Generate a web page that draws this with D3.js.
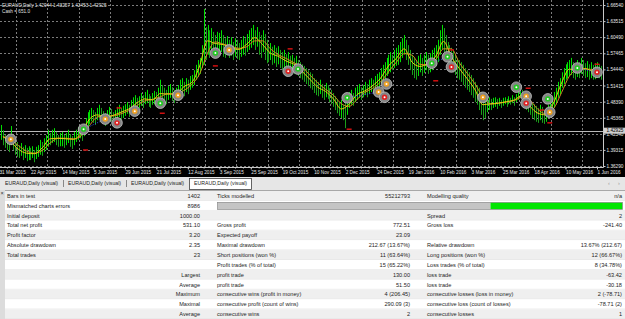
<!DOCTYPE html>
<html>
<head>
<meta charset="utf-8">
<script src="https://cdn.jsdelivr.net/npm/d3@7"></script>
<style>
  body { margin: 0; background: #fff; overflow: hidden; }
  svg { display: block; }
</style>
</head>
<body>
<svg id="chart" width="625" height="319"></svg>
<script>
// ---- data ----
const symbolTitle = "EURAUD,Daily  1.42944 1.43257 1.42453 1.42925"
const cashText = "Cash = 651.0"
const bidPrice = 1.42925

const dateLabels = ["31 Mar 2015","22 Apr 2015","14 May 2015","5 Jun 2015","29 Jun 2015","21 Jul 2015",
  "12 Aug 2015","3 Sep 2015","25 Sep 2015","19 Oct 2015","10 Nov 2015","2 Dec 2015","24 Dec 2015",
  "19 Jan 2016","10 Feb 2016","3 Mar 2016","25 Mar 2016","18 Apr 2016","10 May 2016","1 Jun 2016"]

const priceTicks = [1.36290,1.39315,1.42340,1.45365,1.48390,1.51415,1.54440,1.57465,1.60490,1.63515,1.66540]

// daily bars, one per trading day
const high = [
  1.434,1.440,1.430,1.421,1.415,1.412,1.438,1.421,1.412,1.408,1.402,1.406,1.399,1.402,1.397,1.400,
  1.397,1.400,1.393,1.399,1.402,1.412,1.408,1.415,1.421,1.431,1.425,1.431,1.434,1.427,1.421,1.425,
  1.427,1.421,1.425,1.431,1.423,1.419,1.427,1.431,1.436,1.440,1.434,1.442,1.453,1.464,1.468,1.472,
  1.468,1.464,1.472,1.478,1.472,1.466,1.462,1.468,1.474,1.470,1.464,1.468,1.474,1.478,1.472,1.476,
  1.479,1.483,1.478,1.487,1.492,1.496,1.491,1.494,1.500,1.496,1.502,1.506,1.498,1.494,1.500,1.504,
  1.502,1.510,1.525,1.515,1.510,1.506,1.513,1.517,1.511,1.506,1.510,1.515,1.525,1.528,1.521,1.528,
  1.525,1.532,1.534,1.543,1.553,1.562,1.566,1.590,1.658,1.624,1.628,1.618,1.622,1.615,1.609,1.615,
  1.613,1.618,1.609,1.603,1.607,1.600,1.605,1.596,1.603,1.600,1.594,1.600,1.607,1.603,1.611,1.618,
  1.622,1.628,1.618,1.624,1.615,1.609,1.618,1.611,1.600,1.590,1.594,1.587,1.590,1.585,1.588,1.581,
  1.577,1.581,1.573,1.577,1.570,1.572,1.566,1.570,1.562,1.558,1.554,1.551,1.547,1.543,1.539,1.536,
  1.528,1.525,1.521,1.525,1.517,1.513,1.519,1.515,1.509,1.506,1.500,1.494,1.489,1.483,1.487,1.478,
  1.487,1.494,1.502,1.506,1.500,1.510,1.513,1.517,1.511,1.515,1.521,1.517,1.525,1.528,1.525,1.532,
  1.536,1.539,1.547,1.553,1.558,1.566,1.572,1.577,1.572,1.581,1.585,1.590,1.596,1.603,1.609,1.600,
  1.590,1.581,1.572,1.566,1.562,1.570,1.573,1.566,1.572,1.577,1.572,1.575,1.581,1.585,1.590,1.600,
  1.618,1.628,1.622,1.609,1.596,1.590,1.585,1.581,1.572,1.566,1.562,1.558,1.553,1.547,1.543,1.539,
  1.534,1.528,1.521,1.515,1.510,1.502,1.496,1.491,1.494,1.492,1.489,1.491,1.492,1.489,1.491,1.487,
  1.491,1.492,1.489,1.494,1.491,1.496,1.492,1.498,1.510,1.515,1.506,1.502,1.496,1.491,1.487,1.481,
  1.479,1.476,1.472,1.478,1.474,1.468,1.472,1.478,1.483,1.491,1.502,1.510,1.521,1.528,1.539,1.547,
  1.554,1.558,1.562,1.566,1.558,1.554,1.562,1.558,1.566,1.562,1.556,1.560,1.554,1.558,1.553,1.556,
  1.558,1.554,1.551
]
const low = [
  1.408,1.412,1.402,1.397,1.393,1.389,1.402,1.393,1.384,1.380,1.378,1.382,1.374,1.378,1.372,1.374,
  1.374,1.378,1.370,1.376,1.380,1.384,1.382,1.389,1.393,1.399,1.402,1.406,1.408,1.402,1.399,1.400,
  1.400,1.397,1.402,1.406,1.399,1.395,1.402,1.408,1.412,1.415,1.410,1.419,1.427,1.436,1.442,1.447,
  1.444,1.440,1.449,1.453,1.447,1.442,1.438,1.446,1.451,1.447,1.442,1.447,1.453,1.455,1.449,1.453,
  1.457,1.461,1.455,1.464,1.468,1.472,1.466,1.472,1.476,1.472,1.479,1.481,1.474,1.472,1.478,1.479,
  1.476,1.483,1.492,1.489,1.481,1.479,1.487,1.491,1.485,1.481,1.487,1.491,1.496,1.502,1.494,1.502,
  1.498,1.506,1.510,1.515,1.525,1.530,1.536,1.547,1.553,1.562,1.572,1.566,1.577,1.572,1.566,1.570,
  1.572,1.577,1.568,1.566,1.573,1.566,1.570,1.562,1.568,1.564,1.562,1.568,1.572,1.570,1.577,1.581,
  1.585,1.590,1.581,1.587,1.572,1.566,1.577,1.562,1.556,1.558,1.562,1.553,1.556,1.549,1.554,1.547,
  1.543,1.547,1.539,1.543,1.538,1.541,1.536,1.539,1.532,1.528,1.525,1.521,1.517,1.513,1.509,1.506,
  1.500,1.496,1.494,1.498,1.491,1.487,1.492,1.489,1.483,1.479,1.474,1.468,1.462,1.457,1.453,1.449,
  1.434,1.459,1.472,1.478,1.476,1.483,1.487,1.491,1.487,1.492,1.496,1.492,1.498,1.502,1.500,1.506,
  1.506,1.509,1.517,1.521,1.525,1.532,1.536,1.539,1.543,1.547,1.551,1.553,1.558,1.566,1.572,1.562,
  1.553,1.543,1.534,1.528,1.525,1.532,1.539,1.532,1.538,1.543,1.536,1.539,1.543,1.547,1.551,1.558,
  1.572,1.581,1.577,1.566,1.558,1.553,1.543,1.539,1.534,1.528,1.525,1.521,1.515,1.510,1.506,1.502,
  1.496,1.491,1.483,1.478,1.468,1.459,1.449,1.453,1.464,1.468,1.468,1.472,1.474,1.470,1.476,1.472,
  1.476,1.479,1.474,1.479,1.478,1.481,1.476,1.483,1.487,1.491,1.481,1.478,1.468,1.464,1.459,1.453,
  1.449,1.446,1.444,1.449,1.444,1.442,1.446,1.453,1.457,1.464,1.472,1.479,1.491,1.498,1.510,1.517,
  1.525,1.528,1.532,1.534,1.528,1.525,1.530,1.528,1.536,1.532,1.528,1.530,1.525,1.528,1.525,1.526,
  1.530,1.528,1.525
]

// moving averages, read every 4th bar (bars 2, 6, 10 ...)
const maFast = [1.418,1.408,1.394,1.387,1.386,1.397,1.414,1.415,1.414,1.413,1.426,1.451,1.459,1.455,1.458,1.464,
  1.470,1.481,1.489,1.487,1.499,1.498,1.498,1.512,1.520,1.551,1.598,1.593,1.591,1.585,1.582,1.592,1.604,1.591,
  1.575,1.569,1.560,1.554,1.541,1.526,1.511,1.503,1.489,1.470,1.479,1.497,1.504,1.514,1.528,1.551,1.565,1.583,
  1.558,1.550,1.556,1.569,1.597,1.568,1.546,1.527,1.506,1.478,1.480,1.481,1.484,1.487,1.496,1.475,1.462,1.459,
  1.482,1.519,1.545,1.543,1.546,1.541,1.541]
const maSlow = [1.418,1.413,1.401,1.391,1.387,1.392,1.406,1.415,1.415,1.414,1.420,1.439,1.455,1.457,1.457,1.461,
  1.467,1.476,1.485,1.488,1.493,1.499,1.498,1.505,1.516,1.536,1.575,1.596,1.592,1.588,1.584,1.587,1.598,1.598,
  1.583,1.572,1.565,1.557,1.548,1.534,1.519,1.507,1.496,1.480,1.475,1.488,1.501,1.509,1.521,1.540,1.558,1.574,
  1.571,1.554,1.553,1.563,1.583,1.583,1.557,1.537,1.517,1.492,1.479,1.481,1.483,1.486,1.492,1.486,1.469,1.461,
  1.471,1.501,1.532,1.544,1.545,1.544,1.541]

// trade arrows: [bar, price, kind]  g = open, r = stop/close, o = modify
const trades = [
  [6,1.413,"o"],[43,1.432,"g"],[54,1.451,"o"],[60,1.444,"r"],[69,1.466,"o"],[82,1.481,"g"],[91,1.496,"o"],
  [110,1.575,"g"],[117,1.581,"o"],[147,1.541,"r"],[152,1.545,"g"],[177,1.491,"g"],[193,1.502,"o"],
  [197,1.517,"o"],[196,1.492,"r"],[220,1.556,"g"],[228,1.568,"g"],[230,1.549,"r"],[246,1.492,"o"],
  [263,1.511,"g"],[268,1.494,"o"],[268,1.481,"r"],[279,1.489,"g"],[280,1.464,"o"],[294,1.547,"g"],[304,1.539,"r"]
]
const stopLevels = [[44,1.393],[61,1.472],[83,1.462],[110,1.551],[148,1.583],[178,1.432],[222,1.523],
  [230,1.581],[269,1.509],[276,1.468],[280,1.444],[304,1.554]]
const tradeLinks = [[1,2],[11,12],[15,16],[19,20],[24,25]]

const tabNames = ["EURAUD,Daily (visual)","EURAUD,Daily (visual)","EURAUD,Daily (visual)","EURAUD,Daily (visual)"]

const statRows = [
  ["Bars in test","1402","Ticks modelled","55212793","Modelling quality","n/a"],
  ["Mismatched charts errors","8986","","","",""],
  ["Initial deposit","1000.00","","","Spread","2"],
  ["Total net profit","531.10","Gross profit","772.51","Gross loss","-241.40"],
  ["Profit factor","3.20","Expected payoff","23.09","",""],
  ["Absolute drawdown","2.35","Maximal drawdown","212.67 (13.67%)","Relative drawdown","13.67% (212.67)"],
  ["Total trades","23","Short positions (won %)","11 (63.64%)","Long positions (won %)","12 (66.67%)"],
  ["","","Profit trades (% of total)","15 (65.22%)","Loss trades (% of total)","8 (34.78%)"],
  ["","Largest","profit trade","130.00","loss trade","-63.42"],
  ["","Average","profit trade","51.50","loss trade","-30.18"],
  ["","Maximum","consecutive wins (profit in money)","4 (206.45)","consecutive losses (loss in money)","2 (-78.71)"],
  ["","Maximal","consecutive profit (count of wins)","290.09 (3)","consecutive loss (count of losses)","-78.71 (2)"],
  ["","Average","consecutive wins","2","consecutive losses","1"]
]

// ---- drawing ----
const FONT = "'Liberation Sans', Arial, sans-serif"
const W = 625, H = 319
const plotRight = 603, plotBottom = 167, chartBottom = 177

const svg = d3.select("#chart")
svg.append("defs").append("clipPath").attr("id", "plotClip")
   .append("rect").attr("width", plotRight).attr("height", plotBottom)

svg.append("rect").attr("width", W).attr("height", chartBottom).attr("fill", "#000")

const x = d3.scaleLinear().domain([0, 304]).range([-1, 597])
const y = d3.scaleLinear()
            .domain([priceTicks[0], priceTicks[priceTicks.length - 1]])
            .range([166, 5])
const px = v => Math.round(v) + 0.5

const plot = svg.append("g").attr("clip-path", "url(#plotClip)")

// grid
plot.append("g").selectAll("line").data(priceTicks).join("line")
    .attr("x1", 0).attr("x2", plotRight)
    .attr("y1", d => px(y(d))).attr("y2", d => px(y(d)))
    .attr("stroke", "#7c7c7c").attr("stroke-dasharray", "2,2")
plot.append("g").selectAll("line").data(d3.range(8.5, 310, 16)).join("line")
    .attr("x1", d => px(x(d))).attr("x2", d => px(x(d)))
    .attr("y1", 0).attr("y2", plotBottom)
    .attr("stroke", "#7c7c7c").attr("stroke-dasharray", "2,2")

// bid line
plot.append("line")
    .attr("x1", 0).attr("x2", plotRight)
    .attr("y1", px(y(bidPrice))).attr("y2", px(y(bidPrice)))
    .attr("stroke", "#b8b8b8")

// bars
plot.append("g").selectAll("line").data(high).join("line")
    .attr("x1", (d, i) => px(x(i))).attr("x2", (d, i) => px(x(i)))
    .attr("y1", (d, i) => y(high[i])).attr("y2", (d, i) => y(low[i]))
    .attr("stroke", (d, i) => (i === 0 || high[i] + low[i] >= high[i - 1] + low[i - 1]) ? "#00e000" : "#1aa01a")
    .attr("stroke-width", 1)

// moving averages
const maBars = d3.range(2, 307, 4)
const maLine = d3.line()
                 .x((d, i) => x(maBars[i]))
                 .y(d => y(d))
                 .curve(d3.curveMonotoneX)
plot.append("path").datum(maSlow).attr("d", maLine)
    .attr("fill", "none").attr("stroke", "#d08a20").attr("stroke-width", 1)
plot.append("path").datum(maFast).attr("d", maLine)
    .attr("fill", "none").attr("stroke", "#e2cf12").attr("stroke-width", 1)

// trade links
plot.append("g").selectAll("line").data(tradeLinks).join("line")
    .attr("x1", d => x(trades[d[0]][0])).attr("y1", d => y(trades[d[0]][1]))
    .attr("x2", d => x(trades[d[1]][0])).attr("y2", d => y(trades[d[1]][1]))
    .attr("stroke", "#3050ff").attr("stroke-dasharray", "1,1.5")

// stop / take levels
plot.append("g").selectAll("rect").data(stopLevels).join("rect")
    .attr("x", d => x(d[0]) - 2.5).attr("y", d => y(d[1]) - 0.75)
    .attr("width", 5).attr("height", 1.5).attr("fill", "#d01010")

// trade markers
const kindColor = { g: "#22cc22", r: "#e02020", o: "#f0a020" }
const marks = plot.append("g").selectAll("g").data(trades).join("g")
    .attr("transform", d => `translate(${x(d[0])},${y(d[1])})`)
marks.append("circle").attr("r", 5.3).attr("fill", "#858585").attr("stroke", "#c2c2c2").attr("stroke-width", 0.8)
marks.append("circle").attr("r", 2.7).attr("fill", d => kindColor[d[2]])
marks.append("circle").attr("r", 1).attr("fill", "#fff")

// frame
svg.append("line").attr("x1", plotRight + 0.5).attr("x2", plotRight + 0.5).attr("y1", 0).attr("y2", plotBottom + 0.5)
   .attr("stroke", "#c8c8c8")
svg.append("line").attr("x1", 0).attr("x2", plotRight + 0.5).attr("y1", plotBottom + 0.5).attr("y2", plotBottom + 0.5)
   .attr("stroke", "#c8c8c8")

// price axis
const yAxis = svg.append("g").attr("transform", `translate(${plotRight + 0.5},0)`)
   .call(d3.axisRight(y).tickValues(priceTicks).tickSize(2).tickPadding(1).tickFormat(d3.format(".5f")))
yAxis.select(".domain").remove()
yAxis.selectAll("line").attr("stroke", "#c8c8c8")
yAxis.selectAll("text").attr("fill", "#e8e8e8").attr("font-size", 4.7).attr("font-family", FONT)

// bid price box
const bidY = y(bidPrice)
svg.append("rect").attr("x", plotRight + 1).attr("y", bidY - 3).attr("width", 22).attr("height", 6).attr("fill", "#d0d0d0")
svg.append("text").attr("x", plotRight + 3.5).attr("y", bidY).attr("dy", "0.35em")
   .attr("font-size", 4.7).attr("font-family", FONT).attr("fill", "#000").text(bidPrice.toFixed(5))

// time axis
const xAxis = svg.append("g").attr("transform", `translate(0,${plotBottom + 0.5})`)
   .call(d3.axisBottom(x).tickValues(d3.range(0, 305, 16)).tickSize(2).tickPadding(1)
           .tickFormat((d, i) => dateLabels[i]))
xAxis.select(".domain").remove()
xAxis.selectAll("line").attr("stroke", "#c8c8c8")
xAxis.selectAll("text").attr("fill", "#e8e8e8").attr("font-size", 4.7).attr("font-family", FONT)
     .attr("text-anchor", "start")
svg.append("g").attr("transform", `translate(0,${plotBottom + 0.5})`)
   .call(d3.axisBottom(x).tickValues(d3.range(4, 307, 4)).tickSize(1).tickFormat(""))
   .call(g => g.select(".domain").remove())
   .selectAll("line").attr("stroke", "#c8c8c8")

// header
svg.append("text").attr("x", 2).attr("y", 6.5).attr("font-size", 4.7).attr("font-family", FONT)
   .attr("fill", "#e0e0e0").text(symbolTitle)
svg.append("text").attr("x", 2).attr("y", 13).attr("font-size", 4.7).attr("font-family", FONT)
   .attr("fill", "#e0e0e0").text(cashText)

// ---- tabs ----
svg.append("rect").attr("x", 0).attr("y", chartBottom).attr("width", W).attr("height", 13).attr("fill", "#e6e6e6")
const tabW = 63
svg.append("rect").attr("x", 189.5).attr("y", 178.5).attr("width", 62).attr("height", 11)
   .attr("fill", "#fff").attr("stroke", "#404040").attr("stroke-width", 0.8)
svg.append("g").selectAll("line").data([1, 2]).join("line")
   .attr("x1", d => d * tabW + 0.5).attr("x2", d => d * tabW + 0.5).attr("y1", 180).attr("y2", 187)
   .attr("stroke", "#888")
svg.append("g").selectAll("text").data(tabNames).join("text")
   .attr("x", (d, i) => 5 + i * tabW).attr("y", 185)
   .attr("font-size", 5.2).attr("font-family", FONT).attr("fill", "#222").text(d => d)
svg.append("text").attr("x", 608).attr("y", 185).attr("font-size", 5.5).attr("font-family", FONT).attr("fill", "#999").text("‹")
svg.append("text").attr("x", 618).attr("y", 185).attr("font-size", 5.5).attr("font-family", FONT).attr("fill", "#999").text("›")

// ---- report table ----
const rowTop = 191, rowH = 9.85
svg.append("rect").attr("x", 0).attr("y", 190).attr("width", W).attr("height", H - 190).attr("fill", "#fff")
svg.append("line").attr("x1", 0).attr("x2", W).attr("y1", 190.5).attr("y2", 190.5).attr("stroke", "#a8a8a8")
svg.append("rect").attr("x", 0).attr("y", chartBottom + 13).attr("width", 5).attr("height", H - chartBottom - 13).attr("fill", "#dcdcdc")
svg.append("text").attr("x", 0.6).attr("y", 195).attr("font-size", 5.5).attr("font-family", FONT).attr("fill", "#333").text("×")

const rows = svg.append("g").selectAll("g").data(statRows).join("g")
   .attr("transform", (d, i) => `translate(0,${rowTop + i * rowH})`)
rows.append("rect").attr("x", 5).attr("width", W - 5).attr("height", rowH)
   .attr("fill", (d, i) => i % 2 === 0 ? "#efefef" : "#ffffff")
rows.append("line").attr("x1", 5).attr("x2", W).attr("y1", rowH - 0.25).attr("y2", rowH - 0.25)
   .attr("stroke", "#dedede").attr("stroke-width", 0.5)

// modelling quality bar sits in the second row
const qRow = rows.filter((d, i) => i === 1)
qRow.append("rect").attr("x", 217.5).attr("y", 1.5).attr("width", 273).attr("height", 7).attr("fill", "#c4c4c4")
qRow.append("rect").attr("x", 490.5).attr("y", 1.5).attr("width", 132).attr("height", 7).attr("fill", "#00e600")
qRow.append("rect").attr("x", 217.5).attr("y", 1.5).attr("width", 405).attr("height", 7)
   .attr("fill", "none").attr("stroke", "#8c8c8c").attr("stroke-width", 0.7)

const colX = [7, 200, 217, 410, 427, 622]
const colAnchor = ["start", "end", "start", "end", "start", "end"]
rows.selectAll("text").data(d => d).join("text")
   .attr("x", (d, j) => colX[j]).attr("y", rowH / 2).attr("dy", "0.35em")
   .attr("text-anchor", (d, j) => colAnchor[j])
   .attr("font-size", 5.6).attr("font-family", FONT).attr("fill", "#1e1e1e")
   .text(d => d)
</script>
</body>
</html>
